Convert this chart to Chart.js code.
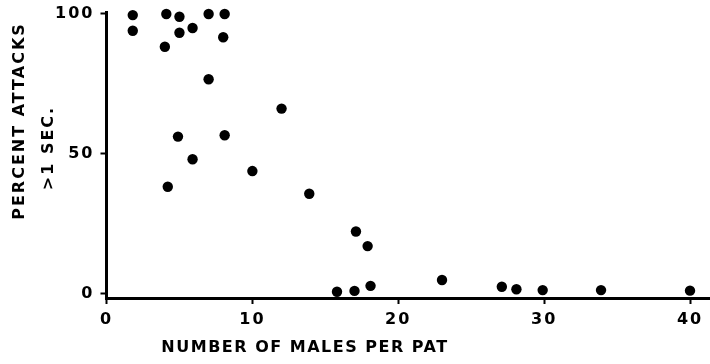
<!DOCTYPE html>
<html>
<head>
<meta charset="utf-8">
<script src="https://cdn.jsdelivr.net/npm/chart.js@4/dist/chart.umd.min.js"></script>
<style>
  html, body { margin: 0; padding: 0; background: #fff; }
  #wrap { width: 710px; height: 364px; }
</style>
</head>
<body>
<div id="wrap"><canvas id="c" width="710" height="364"></canvas></div>
<script>
// Number of males per pat (x) and percent of attacks lasting over 1 second (y)
const malesPerPat = [1.8, 1.8, 4.1, 5.0, 7.0, 8.1, 5.9, 5.0, 8.0, 4.0, 7.0, 12.0, 4.9, 8.1, 5.9,
                     10.0, 4.2, 13.9, 17.1, 17.9, 23.0, 18.1, 15.8, 17.0, 27.1, 28.1, 29.9, 33.9, 40.0];
const percentLong = [99.6, 94.0, 100, 99.0, 100, 100, 95.0, 93.3, 91.7, 88.3, 76.7, 66.2, 56.2, 56.7, 48.1,
                     43.9, 38.3, 35.8, 22.3, 17.1, 5.0, 2.9, 0.8, 1.1, 2.6, 1.7, 1.4, 1.4, 1.2];
const xTicks = [0, 10, 20, 30, 40];
const yTicks = [0, 50, 100];
const xTitle = 'NUMBER OF MALES PER PAT';
const yTitleLines = ['PERCENT ATTACKS', '>1 SEC.'];

const FONT = '"DejaVu Sans", sans-serif';

const points = malesPerPat.map((x, i) => ({ x: x, y: percentLong[i] }));

// Axis titles drawn with wide letter spacing
const titlePlugin = {
  id: 'axisTitles',
  beforeDraw(chart) {
    chart.ctx.letterSpacing = '2px';
  },
  afterDraw(chart) {
    const ctx = chart.ctx;
    ctx.save();
    ctx.fillStyle = '#000';
    ctx.letterSpacing = '1.5px';
    ctx.font = 'bold 16px ' + FONT;
    ctx.textAlign = 'center';
    ctx.textBaseline = 'middle';
    ctx.fillText(xTitle, 305, 348);
    ctx.translate(20, 121);
    ctx.rotate(-Math.PI / 2);
    ctx.letterSpacing = '2px';
    ctx.fillText(yTitleLines[0], 0, 0);
    ctx.fillText(yTitleLines[1], -27, 29);
    ctx.restore();
  }
};

new Chart(document.getElementById('c'), {
  type: 'scatter',
  data: {
    datasets: [{
      data: points,
      backgroundColor: '#000',
      borderWidth: 0,
      pointRadius: 5.2,
      pointHoverRadius: 5.2,
      clip: false
    }]
  },
  options: {
    responsive: false,
    animation: false,
    events: [],
    layout: { autoPadding: false, padding: { top: 12, right: 0, bottom: 0, left: 0 } },
    plugins: { legend: { display: false }, tooltip: { enabled: false } },
    scales: {
      x: {
        type: 'linear',
        min: 0,
        max: 41.37,
        border: { display: true, color: '#000', width: 3 },
        grid: { display: true, drawOnChartArea: false, drawTicks: true, tickLength: 6, tickWidth: 2, tickColor: '#000' },
        ticks: { color: '#000', font: { family: FONT, weight: 'bold', size: 16 }, padding: 6, maxRotation: 0 },
        afterBuildTicks(scale) { scale.ticks = xTicks.map(v => ({ value: v })); },
        afterFit(scale) { scale.height = 66; scale.paddingLeft = 0; scale.paddingRight = 0; }
      },
      y: {
        type: 'linear',
        min: -1.43,
        max: 100.7,
        border: { display: true, color: '#000', width: 3 },
        grid: { display: true, drawOnChartArea: false, drawTicks: true, tickLength: 6, tickWidth: 2, tickColor: '#000' },
        ticks: { color: '#000', font: { family: FONT, weight: 'bold', size: 16 }, padding: 6 },
        afterBuildTicks(scale) { scale.ticks = yTicks.map(v => ({ value: v })); },
        afterFit(scale) { scale.width = 106.5; scale.paddingTop = 0; scale.paddingBottom = 0; }
      }
    }
  },
  plugins: [titlePlugin]
});
</script>
</body>
</html>
